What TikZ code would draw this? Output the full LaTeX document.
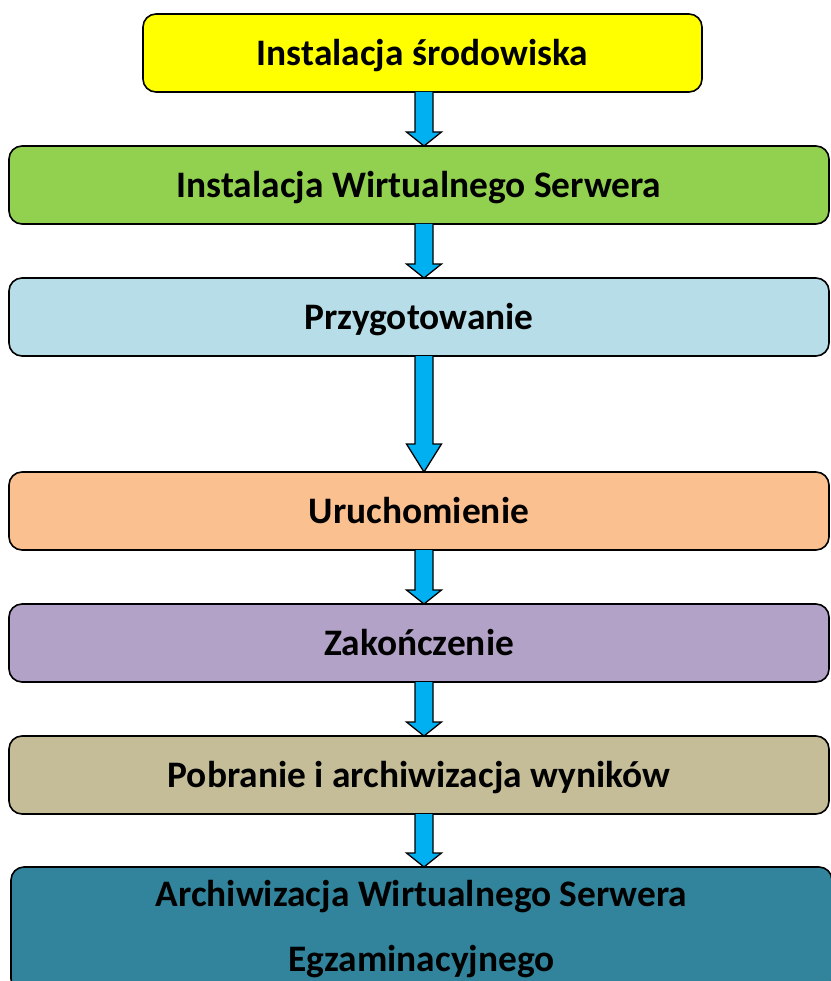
\documentclass[tikz,border=0pt]{standalone}
\usepackage{fontspec}
\setmainfont{Carlito}
\usepackage{xcolor}
\usetikzlibrary{positioning, calc}

\definecolor{cyellow}{HTML}{FFFF00}
\definecolor{cgreen}{HTML}{92D050}
\definecolor{cblue}{HTML}{B7DEE8}
\definecolor{corange}{HTML}{FAC090}
\definecolor{cpurple}{HTML}{B3A2C7}
\definecolor{ctan}{HTML}{C4BD97}
\definecolor{cteal}{HTML}{31849B}
\definecolor{carrow}{HTML}{00B0F0}

% block arrow from the bottom of one stage to the top of the next
\newcommand{\flowarrow}[3][14pt]{%
	\draw[arrow] let \p1=(#2.south -| axis), \p2=(#3.north -| axis) in
		(\x1-9pt,\y1) -- (\x1-9pt,\y2+#1) -- (\x1-17.5pt,\y2+#1) -- (\x2,\y2)
		-- (\x1+17.5pt,\y2+#1) -- (\x1+9pt,\y2+#1) -- (\x1+9pt,\y1);
}

\begin{document}
\begin{tikzpicture}[
		x=1pt, y=1pt,
		stage/.style={rectangle, draw=black, line width=1.6pt, outer sep=0pt, rounded corners=13pt, minimum width=820pt, minimum height=78pt, text height=30pt, text depth=5pt, align=center, font=\fontsize{37.4}{65}\selectfont\bfseries},
		arrow/.style={draw=black, line width=1.3pt, fill=carrow, line join=miter}
		]
		\useasboundingbox (0,0) rectangle (830,-981);
		\coordinate (axis) at (424,0);
		
		% Stages
		\node[stage, fill=cyellow, minimum width=559pt] (srod) at (422.5,-53) {Instalacja środowiska};
		\node[stage, fill=cgreen, below=54pt of srod, xshift=-3.5pt] (serwer) {Instalacja Wirtualnego Serwera};
		\node[stage, fill=cblue, below=54pt of serwer] (przyg) {Przygotowanie};
		\node[stage, fill=corange, below=116pt of przyg] (uruch) {Uruchomienie};
		\node[stage, fill=cpurple, below=54pt of uruch] (zakon) {Zakończenie};
		\node[stage, fill=ctan, below=54pt of zakon] (pobr) {Pobranie i archiwizacja wyników};
		\node[stage, fill=cteal, below=53pt of pobr, xshift=2.5pt, minimum width=821pt, minimum height=125pt, text height=, text depth=] (arch) {Archiwizacja Wirtualnego Serwera\\Egzaminacyjnego};
		
		% Arrows
		\flowarrow{srod}{serwer}
		\flowarrow{serwer}{przyg}
		\flowarrow[28pt]{przyg}{uruch}
		\flowarrow{uruch}{zakon}
		\flowarrow{zakon}{pobr}
		\flowarrow{pobr}{arch}
		
	\end{tikzpicture}
\end{document}
